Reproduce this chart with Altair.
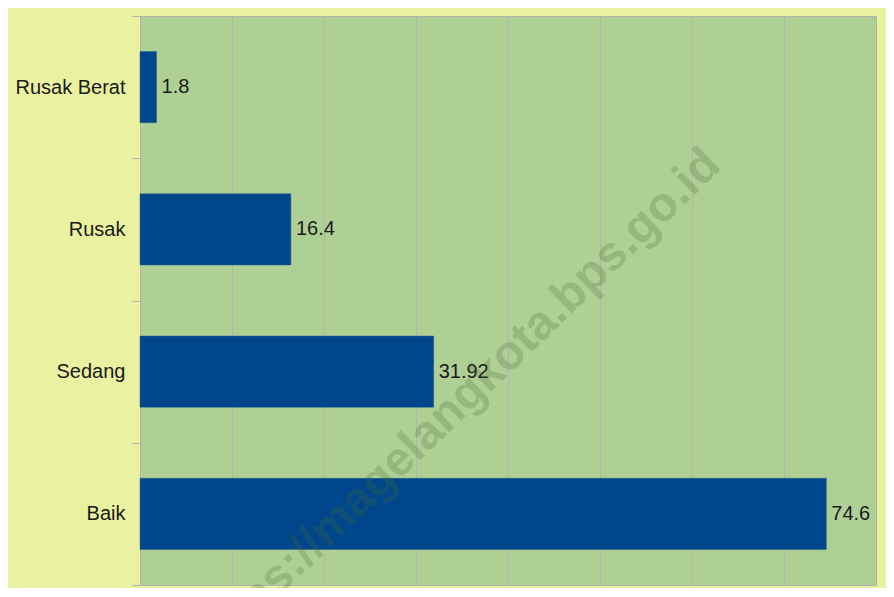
import altair as alt
import pandas as pd

categories = ["Rusak Berat", "Rusak", "Sedang", "Baik"]
values = [1.8, 16.4, 31.92, 74.6]
labels = ["1.8", "16.4", "31.92", "74.6"]
grid_values = [0, 10, 20, 30, 40, 50, 60, 70, 80]
watermark = ["https://magelangkota.bps.go.id"]

df = pd.DataFrame({"kategori": categories, "nilai": values, "label": labels})
wm = pd.DataFrame({"t": watermark})

FONT = "Liberation Sans Narrow, Liberation Sans, Arial, sans-serif"

y_enc = alt.Y(
    "kategori:N",
    sort=categories,
    scale=alt.Scale(paddingInner=0, paddingOuter=0),
    axis=alt.Axis(
        title=None,
        tickBand="extent",
        tickSize=8,
        tickColor="#b3b3b3",
        domainColor="#b3b3b3",
        labelFont=FONT,
        labelFontSize=20,
        labelColor="#1a1a1a",
        labelPadding=7,
        grid=False,
    ),
)

x_enc = alt.X(
    "nilai:Q",
    scale=alt.Scale(domain=[0, 80], nice=False),
    axis=alt.Axis(
        title=None,
        values=grid_values,
        labels=False,
        ticks=False,
        domain=False,
        grid=True,
        gridColor="#b3b3b3",
        gridOpacity=1,
        gridWidth=1,
    ),
)

bars = alt.Chart(df).mark_bar(
    color="#00468a", stroke="#2a5f8f", strokeWidth=0.5, height=alt.RelativeBandSize(0.5)
).encode(x=x_enc, y=y_enc)

text = alt.Chart(df).mark_text(
    align="left", baseline="middle", dx=5, font=FONT, fontSize=20, color="#1a1a1a"
).encode(x="nilai:Q", y=alt.Y("kategori:N", sort=categories), text="label:N")

wmark = alt.Chart(wm).mark_text(
    font="Liberation Sans",
    fontWeight="bold",
    fontSize=48,
    angle=316,
    align="center",
    baseline="middle",
    color="#4a6a3a",
    opacity=0.25,
).encode(x=alt.value(318), y=alt.value(388), text="t:N")

chart = (
    alt.layer(bars, text, wmark)
    .properties(
        width=736,
        height=569,
        background="#eaf2a1",
        padding={"left": 132, "top": 8, "right": 10, "bottom": 3},
        autosize=alt.AutoSizeParams(type="none"),
    )
    .configure_view(fill="#afd095", stroke="#b3b3b3", strokeWidth=1)
)

chart.save("out.html", embed_options={"renderer": "svg", "actions": False})
